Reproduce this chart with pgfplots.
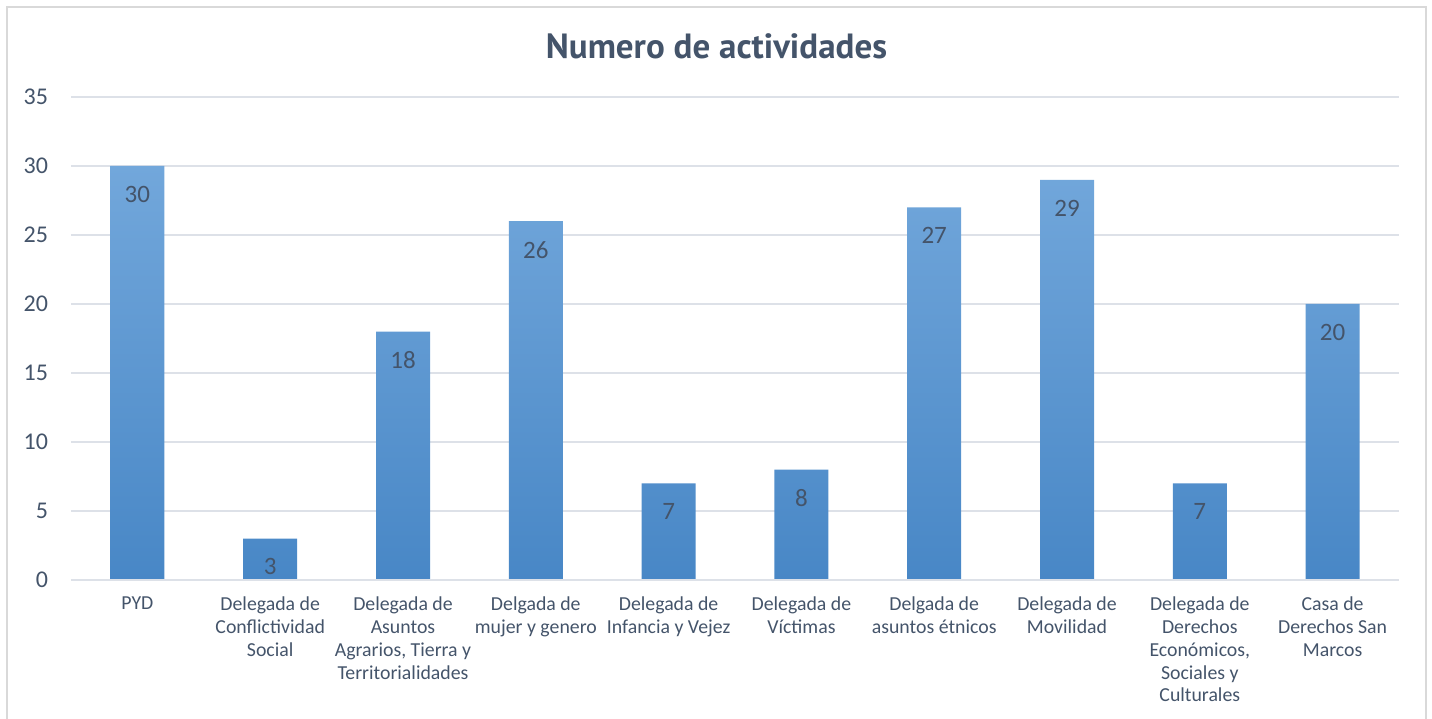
\documentclass[border=0pt]{standalone}
\usepackage{pgfplots}
\pgfplotsset{compat=1.18}
\usepackage{fontspec}
\setmainfont{Carlito}
\newfontfamily\titlefont{PT Sans}
\usetikzlibrary{calc}
\definecolor{txtcol}{HTML}{44546A}
\definecolor{gridcol}{HTML}{DDE1E8}
\definecolor{framecol}{HTML}{D9D9D9}
\definecolor{bartop}{HTML}{72A7DB}
\definecolor{barmid}{HTML}{5A9DDD}
\definecolor{barbot}{HTML}{4887C6}

\begin{document}
\begin{tikzpicture}
\begin{axis}[
    scale only axis,
    width=664pt,
    height=241.5pt,
    ymin=0, ymax=35,
    ytick={0,5,...,35},
    xmin=-0.5, xmax=9.5,
    xtick={0,...,9},
    xticklabels={
        PYD,
        {Delegada de\\Conflictividad\\Social},
        {Delegada de\\Asuntos\\Agrarios, Tierra y\\Territorialidades},
        {Delgada de\\mujer y genero},
        {Delegada de\\Infancia y Vejez},
        {Delegada de\\Víctimas},
        {Delgada de\\asuntos étnicos},
        {Delegada de\\Movilidad},
        {Delegada de\\Derechos\\Económicos,\\Sociales y\\Culturales},
        {Casa de\\Derechos San\\Marcos}},
    xticklabel style={align=center, font=\fontsize{9.9}{11.4}\selectfont, text=txtcol, yshift=-5pt},
    yticklabel style={font=\fontsize{12}{14}\selectfont, text=txtcol, xshift=-8pt},
    /pgf/number format/assume math mode=true,
    major tick length=0pt,
    axis line style={draw=none},
    ymajorgrids,
    grid style={draw=gridcol, line width=0.8pt},
    ybar,
    bar width=27pt,
    nodes near coords,
    every node near coord/.append style={anchor=north, yshift=-6.5pt, font=\fontsize{12.5}{14}\selectfont, text=txtcol},
    clip=false,
]
\addplot[draw=none, top color=bartop, middle color=barmid, bottom color=barbot] coordinates {
    (0,30) (1,3) (2,18) (3,26) (4,7) (5,8) (6,27) (7,29) (8,7) (9,20)};
\draw[gridcol, line width=0.8pt] (rel axis cs:0,0) -- (rel axis cs:1,0);
\coordinate (ll) at (rel axis cs:0,0);
\coordinate (ur) at (rel axis cs:1,1);
\end{axis}
\draw[framecol, line width=0.8pt] ($(ll)+(-32pt,-90pt)$) -- ($(ll)+(-32pt,0)$) |- ($(ur)+(13.5pt,45pt)$) -- ($(ur)+(13.5pt,0)$) -- ($(ur |- ll)+(13.5pt,-90pt)$);
\node[text=txtcol, font=\titlefont\bfseries\fontsize{17.5}{20}\selectfont] at ($(ll |- ur)+(322.75pt,25.5pt)$) {Numero de actividades};
\pgfresetboundingbox
\path[use as bounding box] ($(ll)+(-35.5pt,-69.5pt)$) rectangle ($(ur)+(16.5pt,48.5pt)$);
\end{tikzpicture}
\end{document}
